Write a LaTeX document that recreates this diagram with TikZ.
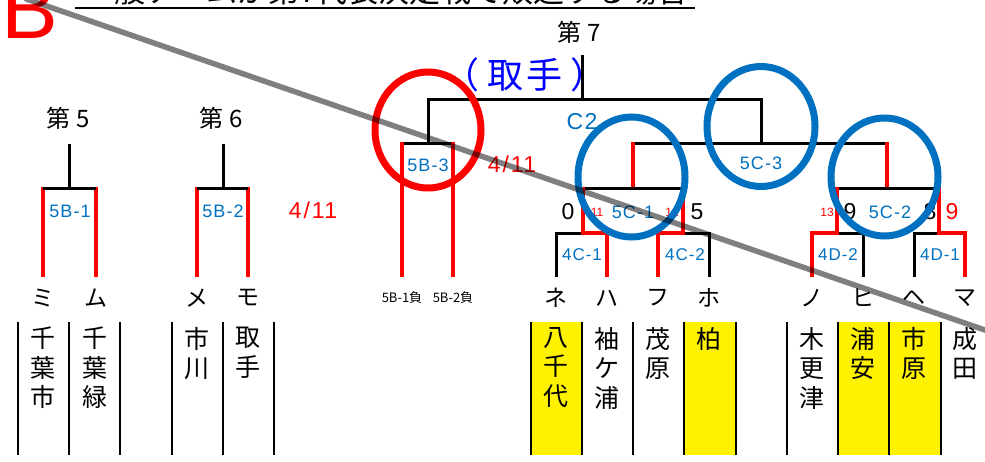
\documentclass[tikz,border=0pt]{standalone}
\usepackage{fontspec}
\setmainfont{Liberation Sans}
\newfontfamily\jp{Noto Sans CJK JP}
\newfontfamily\lblf[LetterSpace=6]{Liberation Sans}
\definecolor{lblue}{HTML}{0070C0}
\definecolor{tblue}{HTML}{0000FF}
\newcommand\fsz[1]{\fontsize{#1}{#1}\selectfont}
\begin{document}
\begin{tikzpicture}[x=1pt,y=-1pt,
  blk/.style={line width=3pt,black},
  rd/.style={line width=4.5pt,red,line join=miter},
  lbl/.style={text=lblue,font=\lblf\fsz{18},inner sep=0pt},
  lbls/.style={text=lblue,font=\lblf\fsz{17},inner sep=0pt},
  kt/.style={font=\jp\fsz{23},inner sep=0pt},
  vt/.style={anchor=north,inner sep=0pt,align=center,font=\jp\fontsize{25}{29.5}\selectfont},
  sc/.style={font=\fsz{23},inner sep=0pt},
  sm/.style={font=\fsz{12},text=red,inner sep=0pt},
  hd/.style={font=\jp\fsz{24},inner sep=0pt},
  dt/.style={font=\lblf\fsz{23},text=red,inner sep=0pt},
  tl/.style={line width=1.3pt,black},
  ring/.style={line width=7pt}]
\useasboundingbox (0,0) rectangle (985,461);
\clip (0,0) rectangle (985,461);

% table fills
\fill[yellow] (531,322) rectangle (582,455);
\fill[yellow] (684,322) rectangle (736,455);
\fill[yellow] (838,322) rectangle (941,455);
\foreach \x in {18,69,120,172,223,274,531,582,633,684,736,787,838,889,941}
  \draw[tl] (\x,322) -- (\x,455);

% vertical names
\node[vt] (n1) at (43,327) {千\\葉\\市};
\node[vt] (n2) at (95,327) {千\\葉\\緑};
\node[vt] (n3) at (197,327) {市\\川};
\node[vt] (n4) at (248,327) {取\\手};
\node[vt] (n5) at (556,327) {八\\千\\代};
\node[vt] (n6) at (607,327) {袖\\ケ\\浦};
\node[vt] (n7) at (658,327) {茂\\原};
\node[vt] (n8) at (709,327) {柏};
\node[vt] (n9) at (812,327) {木\\更\\津};
\node[vt] (n10) at (863,327) {浦\\安};
\node[vt] (n11) at (914,327) {市\\原};
\node[vt] (n12) at (965,327) {成\\田};

% katakana
\node[kt] (k1) at (43,298) {ミ};
\node[kt] (k2) at (96,298) {ム};
\node[kt] (k3) at (197,298) {メ};
\node[kt] (k4) at (248,298) {モ};
\node[kt] (k5) at (556,298) {ネ};
\node[kt] (k6) at (607,298) {ハ};
\node[kt] (k7) at (658,298) {フ};
\node[kt] (k8) at (709,298) {ホ};
\node[kt] (k9) at (812,298) {ノ};
\node[kt] (k10) at (863,298) {ヒ};
\node[kt] (k11) at (914,298) {ヘ};
\node[kt] (k12) at (965,298) {マ};
\node[font=\jp\fsz{13},inner sep=0pt] (l1) at (402,298) {5B-1負};
\node[font=\jp\fsz{13},inner sep=0pt] (l2) at (453,298) {5B-2負};

% group 5
\draw[rd] (43,186.5) -- (43,277);
\draw[rd] (96,186.5) -- (96,277);
\draw[blk] (43,188) -- (96,188);
\draw[blk] (69,144) -- (69,188);
% group 6
\draw[rd] (197,186.5) -- (197,277);
\draw[rd] (248,186.5) -- (248,277);
\draw[blk] (197,188) -- (248,188);
\draw[blk] (223,144) -- (223,188);

% group 7
\draw[blk] (582,55) -- (582,99);
\draw[blk] (428,143) -- (428,99) -- (761,99) -- (761,143);
\draw[blk] (402,143) -- (453,143);
\draw[rd] (402,141.5) -- (402,277);
\draw[rd] (453,141.5) -- (453,277);
\draw[blk] (633,143) -- (887,143);
\draw[rd] (633,141.5) -- (633,188);
\draw[rd] (887,141.5) -- (887,188);
\draw[blk] (583,188) -- (683,188);
\draw[blk] (837,188) -- (939,188);
% 4C / 4D
\draw[blk] (556,277) -- (556,233) -- (583,233);
\draw[blk] (683,233) -- (709,233) -- (709,277);
\draw[blk] (837,233) -- (863,233) -- (863,277);
\draw[blk] (914,277) -- (914,233) -- (939,233);
\draw[rd] (583,186.5) -- (583,233) -- (607,233) -- (607,277);
\draw[rd] (683,186.5) -- (683,233) -- (658,233) -- (658,277);
\draw[rd] (837,186.5) -- (837,233) -- (812,233) -- (812,277);
\draw[rd] (939,186.5) -- (939,233) -- (965,233) -- (965,277);

% headings
\node[hd] (h5) at (68,118) {第 5};
\node[hd] (h6) at (221,118) {第 6};
\node[hd] (h7) at (579,32) {第 7};
\node[font=\jp\fsz{36},text=tblue,inner sep=0pt] (tr) at (525,75) {（\hspace{8pt}取\hspace{3pt}手\hspace{8pt}）};

% labels
\node[lbl] (b1) at (70,211) {5B-1};
\node[lbl] (b2) at (223,211) {5B-2};
\node[lbl] (b3) at (428,165) {5B-3};
\node[lbl] (c3) at (761,163) {5C-3};
\node[lbl] (c1) at (633,212) {5C-1};
\node[lbl] (c2) at (890,212) {5C-2};
\node[lbls] (d1) at (582,255) {4C-1};
\node[lbls] (d2) at (685,255) {4C-2};
\node[lbls] (d3) at (838,255) {4D-2};
\node[lbls] (d4) at (940,255) {4D-1};
\node[text=lblue,font=\lblf\fsz{23},inner sep=0pt] (cc) at (582,122) {C2};
\node[dt] (dt1) at (313,210) {4\hspace{2pt}/\hspace{2pt}11};
\node[dt] (dt2) at (512,164) {4\hspace{2pt}/\hspace{2pt}11};

% scores
\node[sc] (s1) at (568,212) {0};
\node[sm] (s2) at (597,212) {11};
\node[sm] (s3) at (672,212) {12};
\node[sc] (s4) at (697,212) {5};
\node[sm] (s5) at (827,212) {13};
\node[sc] (s6) at (850,212) {9};
\node[sc] (s7) at (930,212) {8};
\node[sc,text=red] (s8) at (952,212) {9};

% rings
\draw[ring,red] (428,130) ellipse [x radius=53pt, y radius=58pt];
\draw[ring,lblue] (631.5,177) ellipse [x radius=53.5pt, y radius=60pt];
\draw[ring,lblue] (761,126.5) ellipse [x radius=54pt, y radius=60pt];
\draw[ring,lblue] (884.5,177) ellipse [x radius=53.5pt, y radius=59pt];

% title and B
\node[anchor=base west,inner sep=0pt,font=\jp\fsz{31}] (title) at (83,2.5) {一般チームが第7代表決定戦で敗退する場合};
\draw[line width=2.6pt] (75,8) -- (695,8);
\node[anchor=base west,inner sep=0pt,text=red,font=\fsz{85}] (B) at (1,38) {B};

% diagonal
\draw[line width=5.5pt,black,opacity=0.5] (25,-1.5) -- (995,333.5);
\end{tikzpicture}
\end{document}
